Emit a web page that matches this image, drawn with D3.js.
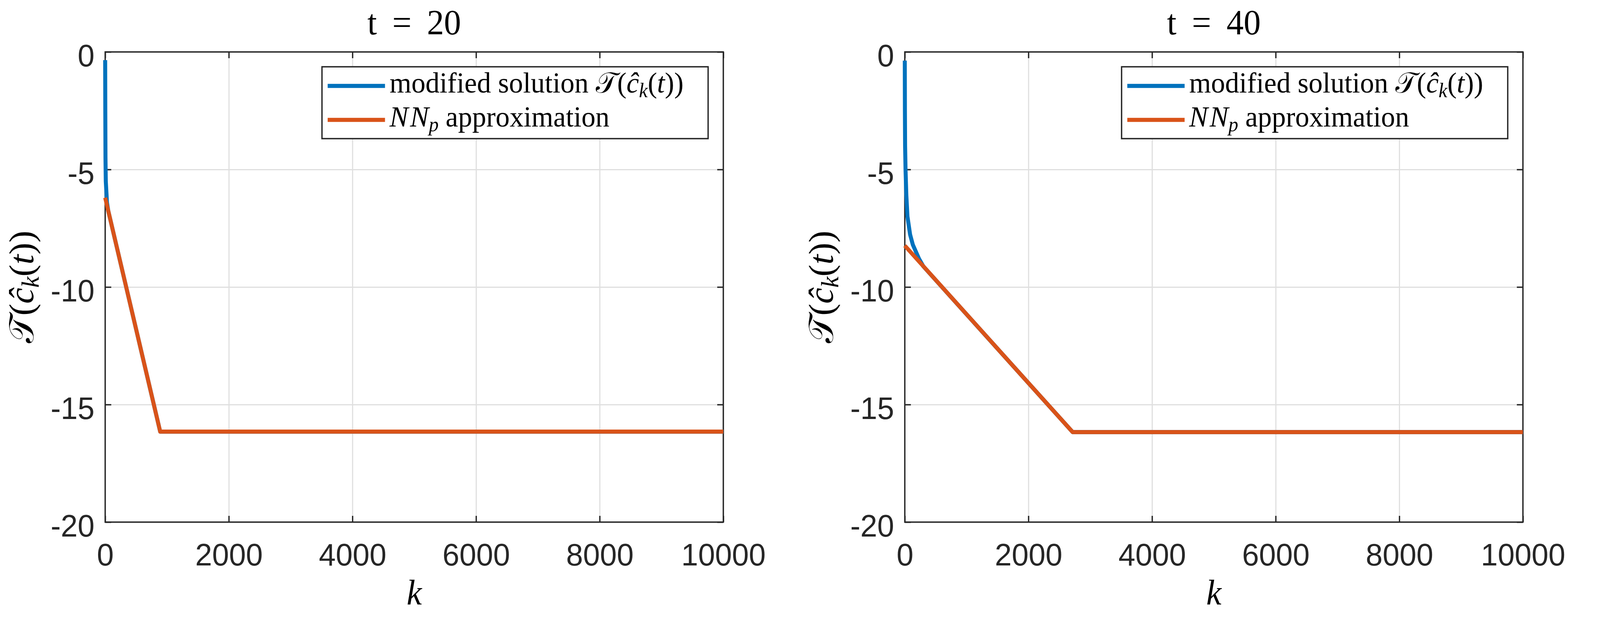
<!DOCTYPE html>
<html>
<head>
<meta charset="utf-8">
<script src="https://cdn.jsdelivr.net/npm/d3@7"></script>
<style>
  html, body { margin: 0; padding: 0; background: #fff; width: 100%; height: 100%; overflow: hidden; }
  svg { display: block; }
</style>
</head>
<body>
<svg id="vis"></svg>
<script>
const WIDTH = 4214;
const HEIGHT = 1580;

const BLUE = '#0072BD';
const ORANGE = '#D95319';
const AXIS_COLOUR = '#262626';
const GRID_COLOUR = '#dfdfdf';

const PANEL_TITLES = ['t = 20', 't = 40'];
const X_TICKS = [0, 2000, 4000, 6000, 8000, 10000];
const Y_TICKS = [-20, -15, -10, -5, 0];
const X_DOMAIN = [0, 10000];
const Y_DOMAIN = [-20, 0];

// t = 20
const T20_MODIFIED_K = [0, 2, 5, 10, 29, 50, 890, 10000];
const T20_MODIFIED_Y = [-0.35, -2.5, -4.5, -5.5, -6.4, -6.76, -16.15, -16.15];
const T20_NN_K = [0, 890, 10000];
const T20_NN_Y = [-6.2, -16.15, -16.15];

// t = 40
const T40_MODIFIED_K = [0, 2, 5, 12, 25, 43, 86, 130, 180, 230, 300, 2715, 10000];
const T40_MODIFIED_Y = [-0.37, -2.5, -4.0, -5.0, -6.1, -7.0, -7.77, -8.2, -8.5, -8.8, -9.12, -16.17, -16.17];
const T40_NN_K = [0, 2715, 10000];
const T40_NN_Y = [-8.24, -16.17, -16.17];

// text pieces: [text, style]  rm = roman, it = italic, sub = italic subscript, cal = calligraphic
const LEGEND_MODIFIED = [['modified solution ', 'rm'], ['\u{1D4AF}', 'cal'], ['(', 'rm'], ['\u0109', 'it'], ['k', 'sub'],
    ['(', 'rm'], ['t', 'it'], [')', 'rm'], [')', 'rm']];
const LEGEND_NN = [['N', 'it'], [' ', 'rm'], ['N', 'it'], ['p', 'sub'], [' approximation', 'rm']];
const Y_LABEL = [['\u{1D4AF}', 'cal'], ['(', 'rm'], ['\u0109', 'it'], ['k', 'sub'], ['(', 'rm'], ['t', 'it'], [')', 'rm'], [')', 'rm']];
const X_LABEL = [['k', 'it']];

const SANS = "'Liberation Sans', Arial, Helvetica, sans-serif";
const SERIF = "'Liberation Serif', 'Times New Roman', serif";

function zip(ks, ys) {
    var out = [];
    for (var i = 0; i < ks.length; i++) {
        out.push([ks[i], ys[i]]);
    }
    return out;
}

function mathText(g, x, y, size, parts, anchor) {
    var text = g.append('text')
        .attr('x', x).attr('y', y)
        .attr('font-family', SERIF)
        .attr('font-size', size)
        .attr('fill', '#000')
        .attr('text-anchor', anchor || 'start')
        .attr('xml:space', 'preserve');
    var shift = 0;
    for (var i = 0; i < parts.length; i++) {
        var s = parts[i][1];
        var ts = text.append('tspan').text(parts[i][0]);
        var wanted = s == 'sub' ? Math.round(size * 0.16) : 0;
        if (wanted != shift) {
            ts.attr('dy', wanted - shift);
            shift = wanted;
        }
        if (s == 'it' || s == 'sub') ts.attr('font-style', 'italic');
        if (s == 'sub') ts.attr('font-size', size * 0.7);
        if (s == 'cal') ts.attr('font-family', "'DejaVu Serif', 'DejaVu Sans', serif");
        if (parts[i][0] == ' ' && s == 'rm') ts.attr('font-size', size * 0.25);
    }
    return text;
}

function styleAxisText(sel) {
    sel.attr('font-family', SANS).attr('font-size', 80);
    sel.selectAll('text').attr('fill', AXIS_COLOUR);
    sel.selectAll('.tick line').attr('stroke', AXIS_COLOUR).attr('stroke-width', 3.5);
    sel.select('.domain').remove();
}

function drawPanel(svg, panel) {
    var left = panel.left, right = panel.left + 1628;
    var top = 133, bottom = 1337;
    var x = d3.scaleLinear().domain(X_DOMAIN).range([left, right]);
    var y = d3.scaleLinear().domain(Y_DOMAIN).range([bottom, top]);
    var g = svg.append('g');

    // grid
    g.append('g').attr('transform', 'translate(0,' + bottom + ')')
        .call(d3.axisBottom(x).tickValues(X_TICKS).tickSize(-(bottom - top)).tickFormat(''))
        .call(a => a.select('.domain').remove())
        .selectAll('line').attr('stroke', GRID_COLOUR).attr('stroke-width', 3);
    g.append('g').attr('transform', 'translate(' + left + ',0)')
        .call(d3.axisLeft(y).tickValues(Y_TICKS).tickSize(-(right - left)).tickFormat(''))
        .call(a => a.select('.domain').remove())
        .selectAll('line').attr('stroke', GRID_COLOUR).attr('stroke-width', 3);

    // ticks and labels
    g.append('g').attr('transform', 'translate(0,' + bottom + ')')
        .call(d3.axisBottom(x).tickValues(X_TICKS).tickSize(-16).tickFormat(d => String(d)))
        .call(styleAxisText)
        .selectAll('text').attr('y', 111).attr('dy', null);
    g.append('g').attr('transform', 'translate(0,' + top + ')')
        .call(d3.axisTop(x).tickValues(X_TICKS).tickSize(-16).tickFormat(''))
        .call(styleAxisText);
    g.append('g').attr('transform', 'translate(' + left + ',0)')
        .call(d3.axisLeft(y).tickValues(Y_TICKS).tickSize(-16).tickFormat(d => String(d)))
        .call(styleAxisText)
        .selectAll('text').attr('x', -28).attr('dy', null).attr('y', 36);
    g.append('g').attr('transform', 'translate(' + right + ',0)')
        .call(d3.axisRight(y).tickValues(Y_TICKS).tickSize(-16).tickFormat(''))
        .call(styleAxisText);

    g.append('rect')
        .attr('x', left).attr('y', top)
        .attr('width', right - left).attr('height', bottom - top)
        .attr('fill', 'none').attr('stroke', AXIS_COLOUR).attr('stroke-width', 3.5);

    // data
    var line = d3.line().x(d => x(d[0])).y(d => y(d[1]));
    g.append('path').datum(panel.modified).attr('d', line)
        .attr('fill', 'none').attr('stroke', BLUE).attr('stroke-width', 10.5)
        .attr('stroke-linejoin', 'round');
    g.append('path').datum(panel.nn).attr('d', line)
        .attr('fill', 'none').attr('stroke', ORANGE).attr('stroke-width', 10.5)
        .attr('stroke-linejoin', 'round');

    // titles
    var cx = (left + right) / 2;
    g.append('text').attr('x', cx).attr('y', 88)
        .attr('text-anchor', 'middle')
        .attr('font-family', SERIF).attr('font-size', 90)
        .attr('word-spacing', 18)
        .text(panel.title);
    mathText(g, cx, 1548, 90, X_LABEL, 'middle');
    var yl = g.append('g').attr('transform', 'translate(' + (left - 190) + ',' + ((top + bottom) / 2) + ') rotate(-90)');
    mathText(yl, 0, 0, 92, Y_LABEL, 'middle');

    // legend
    var lx = left + 571, lr = right - 40;
    var leg = g.append('g');
    leg.append('rect').attr('x', lx).attr('y', 171)
        .attr('width', lr - lx).attr('height', 184)
        .attr('fill', '#fff').attr('stroke', AXIS_COLOUR).attr('stroke-width', 3.5);
    var rows = [[BLUE, LEGEND_MODIFIED, 220], [ORANGE, LEGEND_NN, 307]];
    rows.forEach(function(r) {
        leg.append('line').attr('x1', lx + 15).attr('x2', lx + 166)
            .attr('y1', r[2]).attr('y2', r[2])
            .attr('stroke', r[0]).attr('stroke-width', 10.5);
        mathText(leg, lx + 178, r[2] + 17, 74, r[1]);
    });
}

// draw in fixed 4214x1580 units, fitted to whatever viewport the page gets
var svg = d3.select('#vis')
    .attr('width', '100%').attr('height', '100%')
    .attr('viewBox', '0 0 ' + WIDTH + ' ' + HEIGHT)
    .attr('preserveAspectRatio', 'none');
d3.select('body').style('height', '100vh');
svg.style('width', '100vw').style('height', '100vh');
svg.append('rect').attr('width', WIDTH).attr('height', HEIGHT).attr('fill', '#fff');

var panels = [
    {title: PANEL_TITLES[0], left: 277, modified: zip(T20_MODIFIED_K, T20_MODIFIED_Y), nn: zip(T20_NN_K, T20_NN_Y)},
    {title: PANEL_TITLES[1], left: 2383, modified: zip(T40_MODIFIED_K, T40_MODIFIED_Y), nn: zip(T40_NN_K, T40_NN_Y)}
];
panels.forEach(p => drawPanel(svg, p));
</script>
</body>
</html>
